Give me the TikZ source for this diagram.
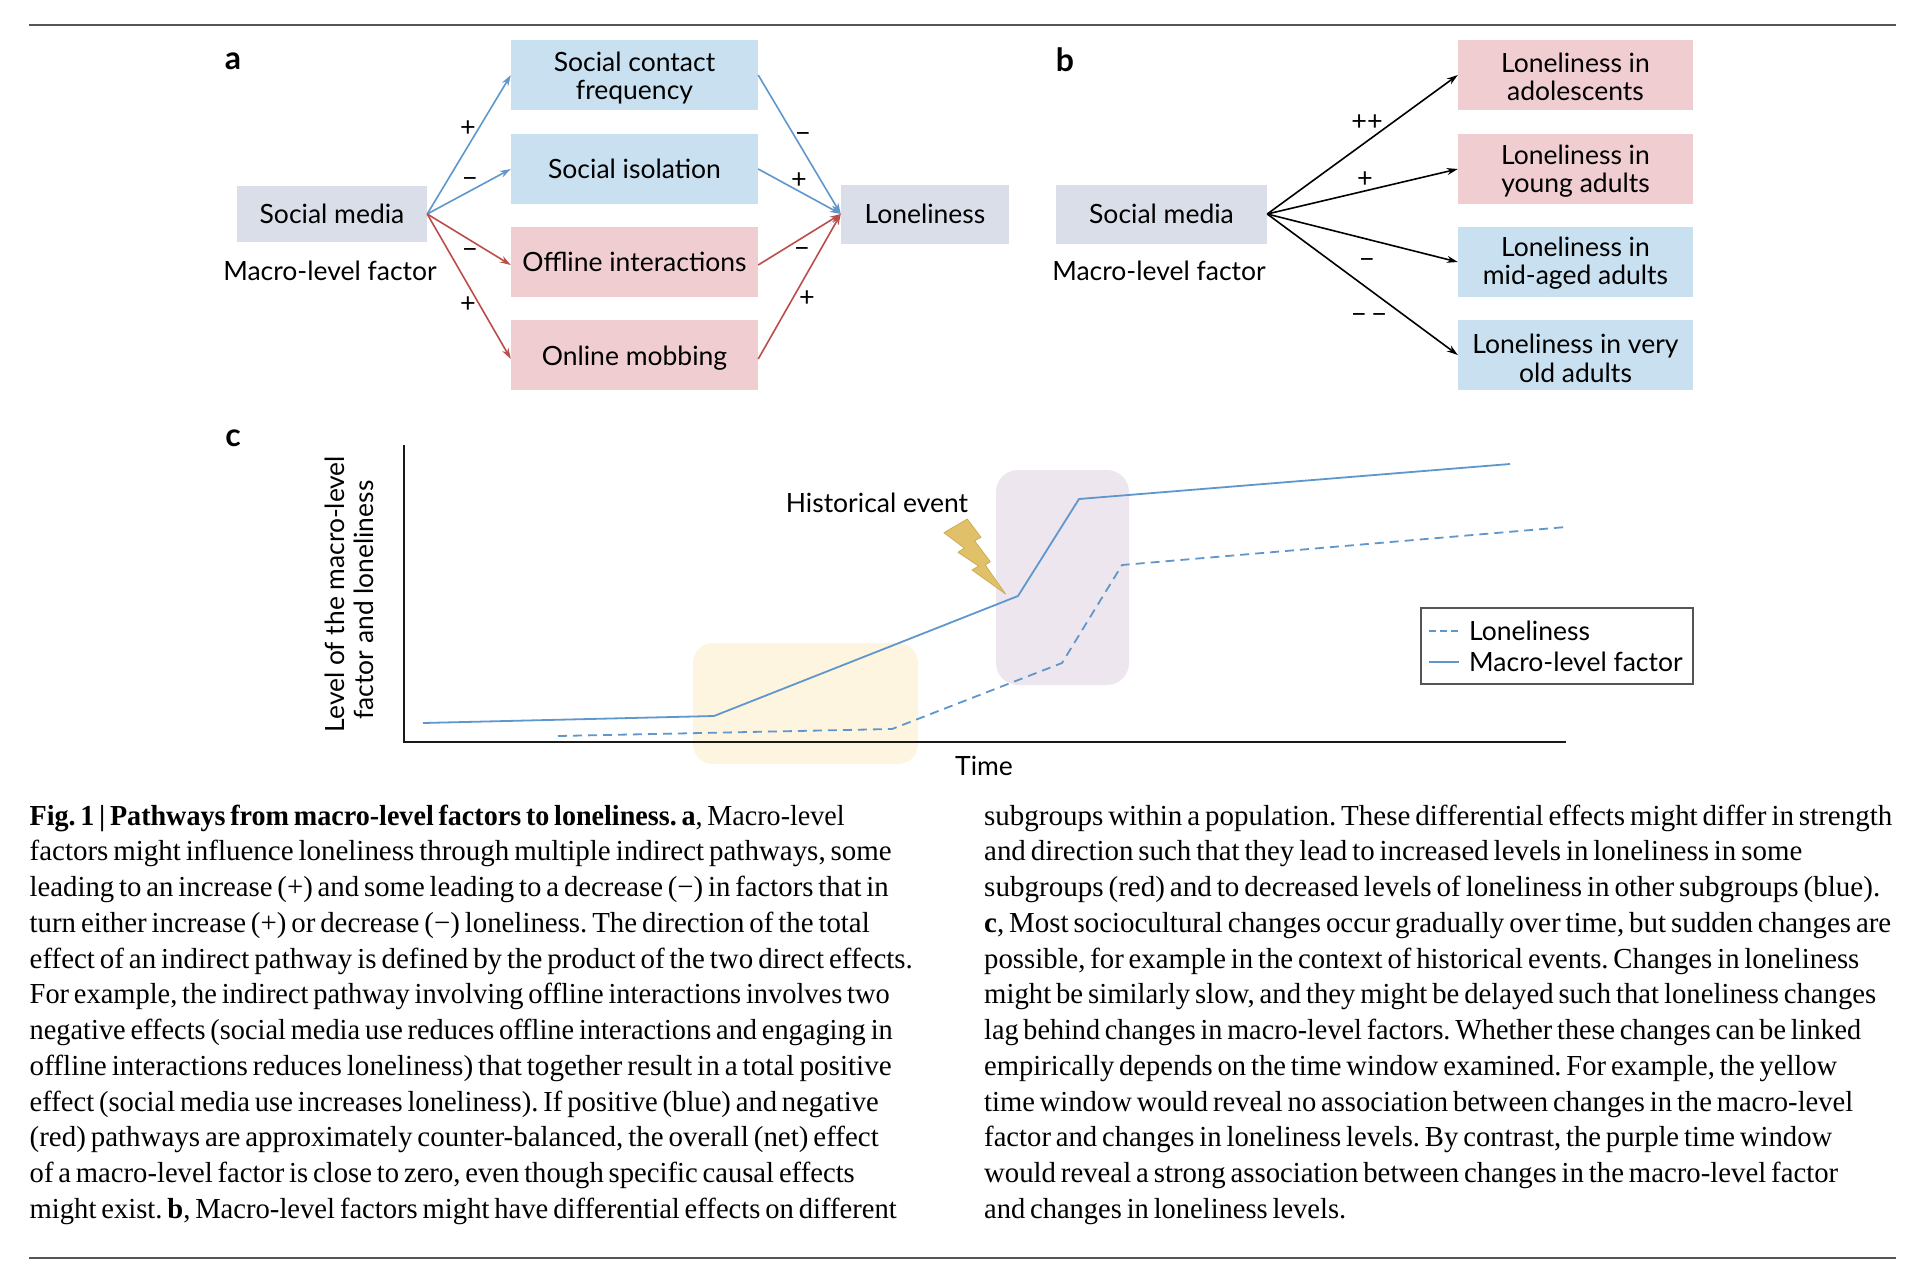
\documentclass[tikz,border=0pt]{standalone}
\usepackage{graphicx}
\usepackage{fontspec}
\setmainfont{Liberation Serif}
\newfontfamily\lab{Lato}
\usetikzlibrary{arrows.meta}
\definecolor{boxblue}{HTML}{C9E0F0}
\definecolor{boxpink}{HTML}{EFCDD0}
\definecolor{boxgray}{HTML}{DADEE8}
\definecolor{lineblue}{HTML}{5F97CC}
\definecolor{linered}{HTML}{BB4D4A}
\definecolor{winyellow}{HTML}{FDF5E0}
\definecolor{winpurple}{HTML}{EDE6EE}
\definecolor{boltfill}{HTML}{E0C068}
\definecolor{boltedge}{HTML}{CCAE55}
\definecolor{rulegray}{HTML}{555555}
\frenchspacing
\newcommand{\fitw}[2]{\resizebox{#1pt}{\height}{#2}}
\newcommand{\dn}[1]{\rule{0pt}{\dimexpr 20pt+2\dimexpr #1pt\relax\relax}}
\newcommand{\capline}[4]{\node[capt] (#1) at (#2,825+35.75*#3) {\fitw{#4}{\spaceskip=.17em\relax\strut\csname capt#1\endcsname}};}
\tikzset{
  lbl/.style={font=\lab\fontsize{26.5}{28.5}\selectfont,align=center,inner sep=0pt,text=black},
  sbox/.style={lbl,minimum width=#1,minimum height=70pt},
  sign/.style={font=\lab\fontsize{27}{27}\selectfont,inner sep=0pt},
  panel/.style={font=\lab\bfseries\fontsize{32}{32}\selectfont,inner sep=0pt},
  capt/.style={anchor=base west,inner sep=0pt,font=\fontsize{29}{30}\selectfont},
  arr/.style={line width=1.6pt,-{Stealth[length=11pt,width=7pt]}},
  mainline/.style={draw=lineblue,line width=1.8pt,line join=round},
  lagline/.style={mainline,dash pattern=on 9pt off 6pt},
}
\begin{document}
\begin{tikzpicture}[x=1pt,y=-1pt]
\useasboundingbox[fill=white] (0,0) rectangle (1924,1264);
\coordinate (r1a) at (29,25); \coordinate (r1b) at (1896,25);
\coordinate (r2a) at (29,1258); \coordinate (r2b) at (1896,1258);
\draw[rulegray,line width=2pt] (r1a) -- (r1b);
\draw[rulegray,line width=2pt] (r2a) -- (r2b);

% panel a
\node[panel] (pa) at (233,61) {a};
\node[lbl,fill=boxgray,minimum width=190pt,minimum height=56pt] (sma) at (332,214) {Social media};
\node[lbl] (mfa) at (330,271) {Macro-level factor};
\node[sbox=247pt,fill=boxblue] (sc) at (634.5,75) {\dn{3}Social contact\\frequency};
\node[sbox=247pt,fill=boxblue] (si) at (634.5,169) {Social isolation};
\node[sbox=247pt,fill=boxpink] (of) at (634.5,262) {Offline interactions};
\node[sbox=247pt,fill=boxpink] (om) at (634.5,355) {\dn{3}Online mobbing};
\node[lbl,fill=boxgray,minimum width=168pt,minimum height=59pt] (lo) at (925,214) {Loneliness};
\draw[arr,lineblue] (sma.east) -- (sc.west);
\draw[arr,lineblue] (sma.east) -- (si.west);
\draw[arr,linered] (sma.east) -- ([yshift=-3pt]of.west);
\draw[arr,linered] (sma.east) -- ([yshift=-4pt]om.west);
\draw[arr,lineblue] (sc.east) -- (lo.west);
\draw[arr,lineblue] (si.east) -- (lo.west);
\draw[arr,linered] ([yshift=-3pt]of.east) -- (lo.west);
\draw[arr,linered] ([yshift=-4pt]om.east) -- (lo.west);
\node[sign] (s1) at (468,129) {+};
\node[sign] (s2) at (470,183) {−};
\node[sign] (s3) at (470,254) {−};
\node[sign] (s4) at (468,305) {+};
\node[sign] (s5) at (803,138) {−};
\node[sign] (s6) at (799,181) {+};
\node[sign] (s7) at (802,253) {−};
\node[sign] (s8) at (807,299) {+};

% panel b
\node[panel] (pb) at (1065,60) {b};
\node[lbl,fill=boxgray,minimum width=211pt,minimum height=59pt] (smb) at (1161.5,214) {Social media};
\node[lbl] (mfb) at (1159,271) {Macro-level factor};
\node[sbox=235pt,fill=boxpink] (la) at (1575.5,75) {\dn{1.5}Loneliness in\\adolescents};
\node[sbox=235pt,fill=boxpink] (ly) at (1575.5,169) {\dn{2}Loneliness in\\young adults};
\node[sbox=235pt,fill=boxblue] (lm) at (1575.5,262) {\dn{1}Loneliness in\\mid-aged adults};
\node[sbox=235pt,fill=boxblue] (lv) at (1575.5,355) {\dn{3}Loneliness in very\\old adults};
\draw[arr] (smb.east) -- (la.west);
\draw[arr] (smb.east) -- (ly.west);
\draw[arr] (smb.east) -- (lm.west);
\draw[arr] (smb.east) -- (lv.west);
\node[sign] (t1) at (1367,123) {++};
\node[sign] (t2) at (1365,180) {+};
\node[sign] (t3) at (1367,264) {−};
\node[sign] (t4) at (1369,319) {−\,−};

% panel c
\node[panel] (pc) at (233,438) {c};
\fill[winyellow,rounded corners=20pt] (693,643) rectangle (918,764);
\fill[winpurple,rounded corners=22pt] (996,470) rectangle (1129,685);
\coordinate (axt) at (404,445); \coordinate (axo) at (404,742); \coordinate (axr) at (1566,742);
\draw[black!90,line width=1.5pt] (axt) -- (axo) -- (axr);
\coordinate (m1) at (423,723); \coordinate (m2) at (714,716); \coordinate (m3) at (1018,596);
\coordinate (m4) at (1079,499); \coordinate (m5) at (1510,464);
\draw[mainline] (m1) -- (m2) -- (m3) -- (m4) -- (m5);
\coordinate (d1) at (558,736); \coordinate (d2) at (892,729); \coordinate (d3) at (1062,663);
\coordinate (d4) at (1122,565); \coordinate (d5) at (1566,527);
\draw[lagline] (d1) -- (d2) -- (d3) -- (d4) -- (d5);
\fill[boltfill,draw=boltedge,line width=0.8pt,line join=round] (967.3,519) -- (981,537.3) -- (974.5,540.7) -- (990.3,561.7) -- (985.2,565) -- (1005.6,594) -- (972,570) -- (978.6,566) -- (958,552.3) -- (964.3,548) -- (943.9,532.7) -- cycle;
\node[lbl] (he) at (877,503) {Historical event};
\node[lbl] (ti) at (984,766) {Time};
\node[lbl,rotate=90] (yl1) at (335,594) {\fitw{276}{Level of the macro-level}};
\node[lbl,rotate=90] (yl2) at (364,600) {\fitw{239}{factor and loneliness}};
\node[draw=rulegray,line width=1.5pt,fill=white,minimum width=272pt,minimum height=76pt,inner sep=0pt] (leg) at (1557,646) {};
\node[lbl,anchor=west] (l1) at (1469,631) {Loneliness};
\node[lbl,anchor=west] (l2) at (1469,662) {Macro-level factor};
\coordinate (la1) at (1429,631); \coordinate (la2) at (1459,631);
\coordinate (lb1) at (1429,662); \coordinate (lb2) at (1459,662);
\draw[mainline,dash pattern=on 7pt off 4pt,line width=1.5pt] (la1) -- (la2);
\draw[mainline,line width=1.5pt] (lb1) -- (lb2);

% caption left
\def\captla{\textbf{Fig.\,1\,|\,Pathways from macro-level factors to loneliness. a}, Macro-level}
\def\captlb{factors might influence loneliness through multiple indirect pathways, some}
\def\captlc{leading to an increase (+) and some leading to a decrease (−) in factors that in}
\def\captld{turn either increase (+) or decrease (−) loneliness. The direction of the total}
\def\captle{effect of an indirect pathway is defined by the product of the two direct effects.}
\def\captlf{For example, the indirect pathway involving offline interactions involves two}
\def\captlg{negative effects (social media use reduces offline interactions and engaging in}
\def\captlh{offline interactions reduces loneliness) that together result in a total positive}
\def\captli{effect (social media use increases loneliness). If positive (blue) and negative}
\def\captlj{(red) pathways are approximately counter-balanced, the overall (net) effect}
\def\captlk{of a macro-level factor is close to zero, even though specific causal effects}
\def\captll{might exist. \textbf{b}, Macro-level factors might have differential effects on different}
\capline{la}{29.5}{0}{815}
\capline{lb}{29.5}{1}{862}
\capline{lc}{29.5}{2}{859}
\capline{ld}{29.5}{3}{840}
\capline{le}{29.5}{4}{883}
\capline{lf}{29.5}{5}{860}
\capline{lg}{29.5}{6}{863}
\capline{lh}{29.5}{7}{862}
\capline{li}{29.5}{8}{849}
\capline{lj}{29.5}{9}{849}
\capline{lk}{29.5}{10}{825}
\capline{ll}{29.5}{11}{867}

% caption right
\def\captra{subgroups within a population. These differential effects might differ in strength}
\def\captrb{and direction such that they lead to increased levels in loneliness in some}
\def\captrc{subgroups (red) and to decreased levels of loneliness in other subgroups (blue).}
\def\captrd{\textbf{c}, Most sociocultural changes occur gradually over time, but sudden changes are}
\def\captre{possible, for example in the context of historical events. Changes in loneliness}
\def\captrf{might be similarly slow, and they might be delayed such that loneliness changes}
\def\captrg{lag behind changes in macro-level factors. Whether these changes can be linked}
\def\captrh{empirically depends on the time window examined. For example, the yellow}
\def\captri{time window would reveal no association between changes in the macro-level}
\def\captrj{factor and changes in loneliness levels. By contrast, the purple time window}
\def\captrk{would reveal a strong association between changes in the macro-level factor}
\def\captrl{and changes in loneliness levels.}
\capline{ra}{984}{0}{908}
\capline{rb}{984}{1}{818}
\capline{rc}{984}{2}{896}
\capline{rd}{984}{3}{907}
\capline{re}{984}{4}{875}
\capline{rf}{984}{5}{892}
\capline{rg}{984}{6}{877}
\capline{rh}{984}{7}{853}
\capline{ri}{984}{8}{869}
\capline{rj}{984}{9}{848}
\capline{rk}{984}{10}{854}
\capline{rl}{984}{11}{362}
\end{tikzpicture}
\end{document}
